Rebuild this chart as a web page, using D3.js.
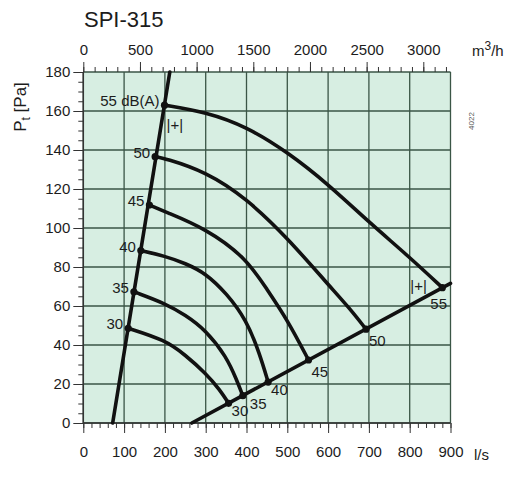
<!DOCTYPE html>
<html>
<head>
<meta charset="utf-8">
<script src="https://cdn.jsdelivr.net/npm/d3@7"></script>
<style>
  html, body { margin: 0; padding: 0; background: #fff; }
  svg { display: block; font-family: "Liberation Sans", Arial, sans-serif; }
</style>
</head>
<body>
<div id="container"></div>
<script>
// sound levels, dB(A)
const levels = [30, 35, 40, 45, 50, 55];

// each constant-sound curve, flow (l/s) and total pressure (Pa)
const curveFlow = [
  [110, 200, 250, 300, 335, 356],
  [124, 200, 250, 300, 351, 376, 391],
  [141, 200, 250, 300, 351, 400, 432, 453],
  [162, 200, 300, 400, 450, 500, 552],
  [176, 200, 300, 400, 500, 600, 650, 693],
  [199, 300, 400, 500, 600, 700, 800, 880]
];
const curvePa = [
  [48.6, 42.6, 34.9, 25.5, 17, 10.1],
  [67.3, 61.4, 55.4, 47.7, 34, 22, 14],
  [88.4, 85.6, 81.9, 76.8, 66.5, 52.8, 35.7, 21],
  [111.8, 108.4, 99.8, 84.5, 68.5, 53, 32.3],
  [136.6, 135.7, 128.9, 115.2, 95, 71, 59.5, 48.1],
  [163, 159.5, 152, 139, 122.5, 103, 85, 69.4]
];

// the two limit lines
const leftLineFlow = [72, 212];
const leftLinePa = [0, 180];
const rightLineFlow = [266, 900];
const rightLinePa = [0, 71.6];

// axis ticks
const flowTicks = [0, 100, 200, 300, 400, 500, 600, 700, 800, 900];
const m3hTicks = [0, 500, 1000, 1500, 2000, 2500, 3000];
const paTicks = [0, 20, 40, 60, 80, 100, 120, 140, 160, 180];

const width = 515, height = 477;
const plotLeft = 83.3, plotRight = 450.5, plotTop = 72, plotBottom = 423;
const gridColor = "#3a5546";
const ink = "#1c1c1c";

const svg = d3.select("#container").append("svg")
  .attr("width", width)
  .attr("height", height);

const x = d3.scaleLinear().domain([0, 900]).range([plotLeft, plotRight]);
const xTop = d3.scaleLinear().domain([0, 900 * 3.6]).range([plotLeft, plotRight]);
const y = d3.scaleLinear().domain([0, 180]).range([plotBottom, plotTop]);

// plot background
svg.append("rect")
  .attr("x", plotLeft).attr("y", plotTop)
  .attr("width", plotRight - plotLeft).attr("height", plotBottom - plotTop)
  .attr("fill", "#d7eee2");

// grid
const grid = svg.append("g").attr("stroke", gridColor).attr("stroke-width", 1.3);
grid.selectAll("line.v")
  .data(flowTicks)
  .join("line")
  .attr("class", "v")
  .attr("x1", d => x(d)).attr("x2", d => x(d))
  .attr("y1", plotTop).attr("y2", plotBottom);
grid.selectAll("line.h")
  .data(paTicks)
  .join("line")
  .attr("class", "h")
  .attr("y1", d => y(d)).attr("y2", d => y(d))
  .attr("x1", plotLeft).attr("x2", plotRight);

// axes: minor ticks first, then major ticks with labels
function styleAxis(g) {
  g.select(".domain").remove();
  g.selectAll(".tick line").attr("stroke", "#333").attr("stroke-width", 1);
  g.selectAll(".tick text")
    .attr("fill", ink)
    .style("font-size", "15px")
    .style("font-family", "'Liberation Sans', Arial, sans-serif");
}

svg.append("g")
  .attr("transform", `translate(0,${plotBottom})`)
  .call(d3.axisBottom(x).tickValues(d3.range(0, 901, 20)).tickSize(5).tickFormat(""))
  .call(styleAxis);
svg.append("g")
  .attr("transform", `translate(0,${plotBottom})`)
  .call(d3.axisBottom(x).tickValues(flowTicks).tickSize(10).tickPadding(13))
  .call(styleAxis);

svg.append("g")
  .attr("transform", `translate(0,${plotTop})`)
  .call(d3.axisTop(xTop).tickValues(d3.range(0, 3201, 100)).tickSize(5).tickFormat(""))
  .call(styleAxis);
svg.append("g")
  .attr("transform", `translate(0,${plotTop})`)
  .call(d3.axisTop(xTop).tickValues(m3hTicks).tickSize(10).tickPadding(7).tickFormat(d3.format("d")))
  .call(styleAxis);

svg.append("g")
  .attr("transform", `translate(${plotLeft},0)`)
  .call(d3.axisLeft(y).tickValues(d3.range(0, 181, 5)).tickSize(5).tickFormat(""))
  .call(styleAxis);
svg.append("g")
  .attr("transform", `translate(${plotLeft},0)`)
  .call(d3.axisLeft(y).tickValues(paTicks).tickSize(10).tickPadding(3))
  .call(styleAxis);

// plot edges
svg.append("line")
  .attr("x1", plotLeft).attr("x2", plotRight).attr("y1", plotBottom).attr("y2", plotBottom)
  .attr("stroke", "#333").attr("stroke-width", 1.5);
svg.append("line")
  .attr("x1", plotLeft).attr("x2", plotLeft).attr("y1", plotTop).attr("y2", plotBottom)
  .attr("stroke", "#333").attr("stroke-width", 1.5);

// curves: B-spline through the read points smooths reading noise
const smooth = d3.line()
  .x(d => x(d[0]))
  .y(d => y(d[1]))
  .curve(d3.curveBasis);
const straight = d3.line()
  .x(d => x(d[0]))
  .y(d => y(d[1]));

const curves = levels.map((lv, i) => ({
  level: lv,
  pts: curveFlow[i].map((f, j) => [f, curvePa[i][j]])
}));

const marks = svg.append("g")
  .attr("fill", "none")
  .attr("stroke", "#111")
  .attr("stroke-width", 3.6)
  .attr("stroke-linecap", "round");

marks.selectAll("path.curve")
  .data(curves)
  .join("path")
  .attr("class", "curve")
  .attr("d", d => smooth(d.pts));

marks.append("path")
  .attr("d", straight(leftLineFlow.map((f, j) => [f, leftLinePa[j]])));
marks.append("path")
  .attr("d", straight(rightLineFlow.map((f, j) => [f, rightLinePa[j]])));

// operating points
const dots = svg.append("g").attr("fill", "#111");
curves.forEach(c => {
  [c.pts[0], c.pts[c.pts.length - 1]].forEach(p => {
    dots.append("circle")
      .attr("cx", x(p[0])).attr("cy", y(p[1]))
      .attr("r", 3.6);
  });
});

// level labels
const labels = svg.append("g")
  .attr("fill", ink)
  .style("font-size", "15px");

labels.selectAll("text.l")
  .data(curves)
  .join("text")
  .attr("class", "l")
  .attr("text-anchor", "end")
  .attr("x", d => x(d.pts[0][0]) - 5)
  .attr("y", d => y(d.pts[0][1]) + 1)
  .text(d => d.level === 55 ? "55 dB(A)" : d.level);

labels.selectAll("text.r")
  .data(curves)
  .join("text")
  .attr("class", "r")
  .attr("x", d => {
    const p = d.pts[d.pts.length - 1];
    return x(p[0]) + (d.level === 55 ? -12 : d.level === 35 ? 7 : 3);
  })
  .attr("y", d => {
    const p = d.pts[d.pts.length - 1];
    return y(p[1]) + (d.level === 55 ? 21 : d.level <= 40 ? 13 : 17);
  })
  .text(d => d.level);

// tolerance marks beside the 55 dB(A) end points
const c55 = curves[curves.length - 1];
svg.append("text")
  .attr("x", x(c55.pts[0][0]) + 2)
  .attr("y", y(c55.pts[0][1]) + 25)
  .attr("fill", ink)
  .style("font-size", "15px")
  .text("|+|");
svg.append("text")
  .attr("x", x(c55.pts[c55.pts.length - 1][0]) - 32)
  .attr("y", y(c55.pts[c55.pts.length - 1][1]) + 3)
  .attr("fill", ink)
  .style("font-size", "15px")
  .text("|+|");

// titles
svg.append("text")
  .attr("x", 84).attr("y", 27)
  .attr("fill", ink)
  .style("font-size", "22px")
  .text("SPI-315");

const unitTop = svg.append("text")
  .attr("x", 472).attr("y", 56)
  .attr("fill", ink)
  .style("font-size", "15px");
unitTop.append("tspan").text("m");
unitTop.append("tspan").attr("dy", -6).style("font-size", "12px").text("3");
unitTop.append("tspan").attr("dy", 6).text("/h");

svg.append("text")
  .attr("x", 474).attr("y", 460)
  .attr("fill", ink)
  .style("font-size", "15px")
  .text("l/s");

const yTitle = svg.append("text")
  .attr("transform", "translate(26,107) rotate(-90)")
  .attr("text-anchor", "middle")
  .attr("fill", ink)
  .style("font-size", "17px");
yTitle.append("tspan").text("P");
yTitle.append("tspan").attr("dy", 4).style("font-size", "12px").text("t");
yTitle.append("tspan").attr("dy", -4).text(" [Pa]");

svg.append("text")
  .attr("transform", "translate(474,121) rotate(-90)")
  .attr("text-anchor", "middle")
  .attr("fill", "#555")
  .style("font-size", "8px")
  .text("4022");
</script>
</body>
</html>
